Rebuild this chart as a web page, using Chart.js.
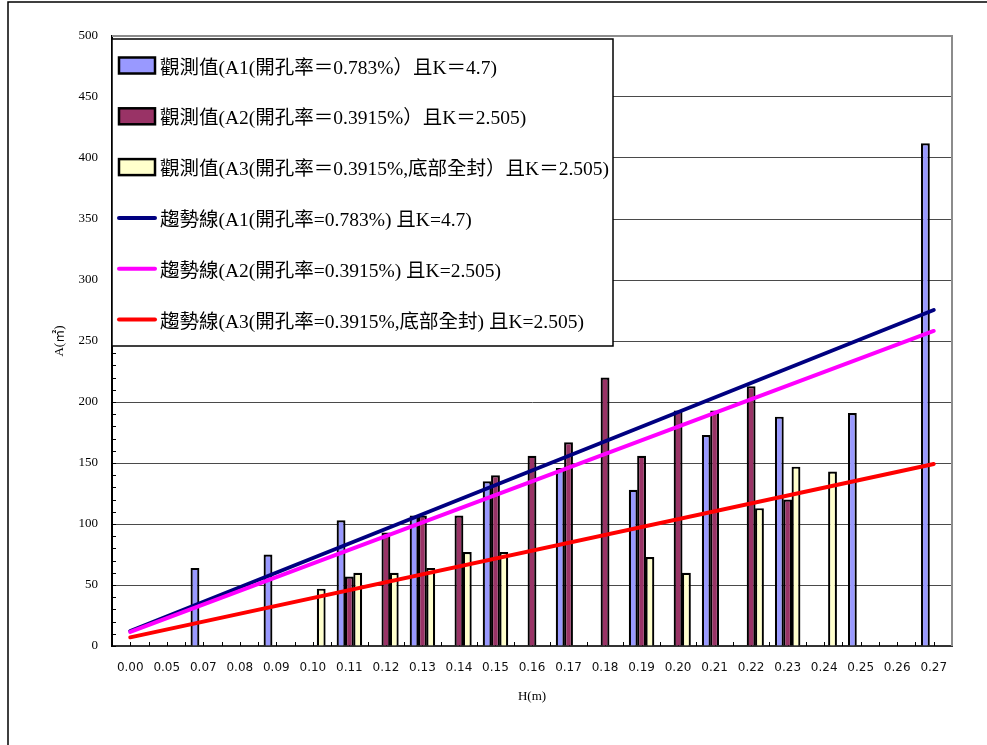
<!DOCTYPE html>
<html><head><meta charset="utf-8">
<script src="https://cdn.jsdelivr.net/npm/chart.js@4"></script>
<style>html,body{margin:0;padding:0;background:#fff;overflow:hidden}canvas{display:block}</style>
</head><body>
<canvas id="c" width="987" height="745"></canvas>
<script>
// ---- data ----
const categories = ["0.00","0.05","0.07","0.08","0.09","0.10","0.11","0.12","0.13","0.14","0.15","0.16","0.17","0.18","0.19","0.20","0.21","0.22","0.23","0.24","0.25","0.26","0.27"];
const seriesA1 = [null,null,64,null,75,null,103,null,107,null,135,null,146,null,128,null,173,null,188,null,191,null,412];
const seriesA2 = [null,null,null,null,null,null,57,93,107,107,140,156,167,220,156,193,193,213,120,null,null,null,null];
const seriesA3 = [null,null,null,null,null,47,60,60,64,77,77,null,null,null,73,60,null,113,147,143,null,null,null];
const trendA1 = [12.3,null,null,null,null,null,null,null,null,null,null,null,null,null,null,null,null,null,null,null,null,null,275.4];
const trendA2 = [11.5,null,null,null,null,null,null,null,null,null,null,null,null,null,null,null,null,null,null,null,null,null,258.2];
const trendA3 = [7.1,null,null,null,null,null,null,null,null,null,null,null,null,null,null,null,null,null,null,null,null,null,149.2];
const seriesLabels = [
  "觀測值(A1(開孔率＝0.783%）且K＝4.7)",
  "觀測值(A2(開孔率＝0.3915%）且K＝2.505)",
  "觀測值(A3(開孔率＝0.3915%,底部全封）且K＝2.505)",
  "趨勢線(A1(開孔率=0.783%) 且K=4.7)",
  "趨勢線(A2(開孔率=0.3915%) 且K=2.505)",
  "趨勢線(A3(開孔率=0.3915%,底部全封) 且K=2.505)"
];
const xTitle = "H(m)";
const yTitle = "A(㎡)";

const serif = '"Liberation Serif", "Noto Sans CJK TC", serif';

const decorPlugin = {
  id: 'decor',
  beforeDraw(chart) {
    const ctx = chart.ctx;
    ctx.save();
    ctx.fillStyle = '#fff';
    ctx.fillRect(0, 0, chart.width, chart.height);
    ctx.strokeStyle = '#000';
    ctx.lineWidth = 1.5;
    ctx.strokeRect(8, 2, chart.width + 100, chart.height + 100);
    ctx.restore();
  },
  beforeDatasetsDraw(chart) {
    const {ctx, chartArea: a, scales: {x, y}} = chart;
    ctx.save();
    ctx.strokeStyle = '#000';
    ctx.lineWidth = 1;
    ctx.beginPath();
    for (let v = y.min; v <= y.max; v += 10) {
      const py = Math.round(y.getPixelForValue(v)) + 0.5;
      ctx.moveTo(a.left, py); ctx.lineTo(a.left + 4, py);
    }
    const half = (x.getPixelForValue(1) - x.getPixelForValue(0)) / 2;
    for (let i = 0; i < categories.length; i++) {
      const c = x.getPixelForValue(i);
      [c - half, c].forEach(p => {
        const px = Math.round(p) + 0.5;
        ctx.moveTo(px, a.bottom); ctx.lineTo(px, a.bottom - 4);
      });
    }
    ctx.stroke();
    ctx.restore();
  },
  afterDatasetsDraw(chart) {
    const {ctx, chartArea: a} = chart;
    ctx.save();
    ctx.strokeStyle = '#8c8c8c';
    ctx.lineWidth = 2;
    ctx.beginPath();
    ctx.moveTo(a.left, a.top); ctx.lineTo(a.right, a.top); ctx.lineTo(a.right, a.bottom);
    ctx.stroke();
    ctx.restore();
  },
  afterDraw(chart) {
    const {ctx, chartArea: a} = chart;
    const box = {left: a.left, top: a.top + 3, right: 613, bottom: 346};
    ctx.save();
    ctx.fillStyle = '#fff';
    ctx.fillRect(box.left, box.top, box.right - box.left, box.bottom - box.top);
    ctx.strokeStyle = '#000';
    ctx.lineWidth = 1.5;
    ctx.strokeRect(box.left, box.top, box.right - box.left, box.bottom - box.top);
    ctx.font = '19.5px ' + serif;
    ctx.textBaseline = 'middle';
    ctx.textAlign = 'left';
    chart.data.datasets.forEach((ds, i) => {
      const cy = 65.5 + i * 50.8;
      if (ds.type === 'line') {
        ctx.strokeStyle = ds.borderColor;
        ctx.lineWidth = 4;
        ctx.lineCap = 'round';
        ctx.beginPath();
        ctx.moveTo(119, cy); ctx.lineTo(155, cy);
        ctx.stroke();
      } else {
        ctx.fillStyle = ds.backgroundColor;
        ctx.fillRect(119, cy - 8, 36, 16);
        ctx.strokeStyle = '#000';
        ctx.lineWidth = 2.5;
        ctx.strokeRect(119, cy - 8, 36, 16);
      }
      ctx.fillStyle = '#000';
      ctx.fillText(ds.label, 160, cy + 3);
    });
    ctx.restore();
  }
};

new Chart(document.getElementById('c'), {
  type: 'bar',
  data: {
    labels: categories,
    datasets: [
      {label: seriesLabels[0], data: seriesA1, backgroundColor: '#9999FF', borderColor: '#000', borderWidth: 2.2, order: 10},
      {label: seriesLabels[1], data: seriesA2, backgroundColor: '#993366', borderColor: '#000', borderWidth: 2.2, order: 10},
      {label: seriesLabels[2], data: seriesA3, backgroundColor: '#FFFFCC', borderColor: '#000', borderWidth: 2.2, order: 10},
      {type: 'line', label: seriesLabels[3], data: trendA1, borderColor: '#000080', borderWidth: 4, pointRadius: 0, spanGaps: true, fill: false, borderCapStyle: 'round', order: 3},
      {type: 'line', label: seriesLabels[4], data: trendA2, borderColor: '#FF00FF', borderWidth: 4, pointRadius: 0, spanGaps: true, fill: false, borderCapStyle: 'round', order: 2},
      {type: 'line', label: seriesLabels[5], data: trendA3, borderColor: '#FF0000', borderWidth: 4, pointRadius: 0, spanGaps: true, fill: false, borderCapStyle: 'round', order: 1}
    ]
  },
  options: {
    responsive: false,
    animation: false,
    devicePixelRatio: 1,
    layout: {padding: {left: 0, top: 36, right: 35, bottom: 0}},
    datasets: {bar: {categoryPercentage: 0.685, barPercentage: 1.06}},
    plugins: {legend: {display: false}, tooltip: {enabled: false}},
    scales: {
      x: {
        offset: true,
        grid: {display: true, color: 'rgba(0,0,0,0)', drawTicks: false},
        border: {display: true, color: '#333', width: 2},
        ticks: {autoSkip: false, maxRotation: 0, minRotation: 0, padding: 15, color: '#111', font: {family: '"DejaVu Sans"', size: 12}},
        title: {display: true, text: xTitle, color: '#000', font: {family: serif, size: 13}, padding: {top: 0, bottom: 41}},
        afterFit(s) { s.height = 99; }
      },
      y: {
        min: 0, max: 500,
        ticks: {stepSize: 50, padding: 14, color: '#000', font: {family: serif, size: 13}},
        grid: {drawTicks: false, lineWidth: 1, color: c => (c.tick && (c.tick.value === 0 || c.tick.value === 500)) ? 'rgba(0,0,0,0)' : '#4a4a4a'},
        border: {display: true, color: '#000', width: 2},
        title: {display: true, text: yTitle, color: '#000', font: {family: serif, size: 13}, padding: {top: 52, bottom: 0}},
        afterFit(s) { s.width = 112; }
      }
    }
  },
  plugins: [decorPlugin]
});
</script>
</body></html>
